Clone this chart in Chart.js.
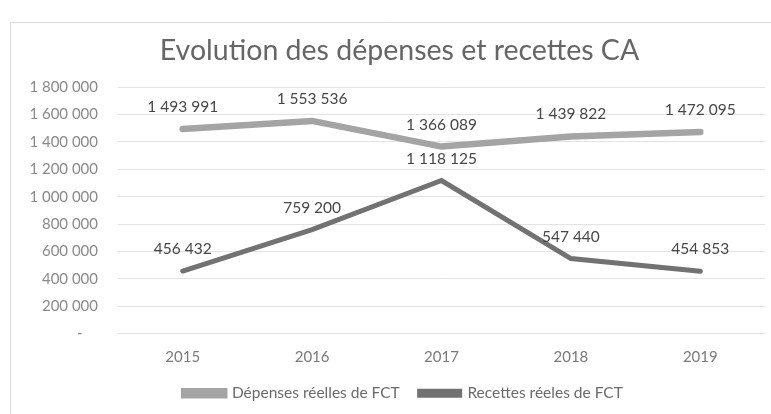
<!DOCTYPE html>
<html>
<head>
<meta charset="utf-8">
<script src="https://cdn.jsdelivr.net/npm/chart.js@4/dist/chart.umd.min.js"></script>
<style>
  html, body { margin: 0; padding: 0; background: #ffffff; }
  #wrap { width: 771px; height: 414px; position: relative; }
</style>
</head>
<body>
<div id="wrap"><canvas id="c" width="771" height="414"></canvas></div>
<script>
const chartTitle = "Evolution des dépenses et recettes CA";
const years = ["2015", "2016", "2017", "2018", "2019"];
const seriesNames = ["Dépenses réelles de FCT", "Recettes réeles de FCT"];
const depenses = [1493991, 1553536, 1366089, 1439822, 1472095];
const recettes = [456432, 759200, 1118125, 547440, 454853];
const yMin = 0;
const yMax = 1800000;
const yStep = 200000;

function fmt(v) {
  return String(Math.round(v)).replace(/\B(?=(\d{3})+(?!\d))/g, " ");
}

const frame = {
  id: "frame",
  beforeDraw(chart) {
    const ctx = chart.ctx;
    ctx.save();
    ctx.fillStyle = "#ffffff";
    ctx.fillRect(0, 0, chart.width, chart.height);
    ctx.strokeStyle = "#dcdcdc";
    ctx.lineWidth = 1;
    ctx.beginPath();
    ctx.moveTo(10.5, 414);
    ctx.lineTo(10.5, 22.5);
    ctx.lineTo(771, 22.5);
    ctx.stroke();
    ctx.restore();
  }
};

// Excel centres title and legend over the whole chart box, slightly right of the canvas centre
const centreShift = {
  id: "centreShift",
  afterLayout(chart) {
    if (chart.titleBlock) { chart.titleBlock.left += 12; chart.titleBlock.right += 12; }
    if (chart.legend) { chart.legend.left += 16; chart.legend.right += 16; }
  }
};

const dataLabels = {
  id: "dataLabels",
  afterDatasetsDraw(chart) {
    const ctx = chart.ctx;
    ctx.save();
    ctx.font = "15.5px Lato";
    ctx.fillStyle = "#474747";
    ctx.textAlign = "center";
    ctx.textBaseline = "middle";
    chart.data.datasets.forEach((ds, i) => {
      const meta = chart.getDatasetMeta(i);
      meta.data.forEach((pt, j) => {
        ctx.fillText(fmt(ds.data[j]), pt.x, pt.y - 22);
      });
    });
    ctx.restore();
  }
};

new Chart(document.getElementById("c"), {
  type: "line",
  data: {
    labels: years,
    datasets: [
      {
        label: seriesNames[0],
        data: depenses,
        borderColor: "#a4a4a4",
        backgroundColor: "#a4a4a4",
        borderWidth: 6.5,
        pointRadius: 0,
        tension: 0,
        borderCapStyle: "round"
      },
      {
        label: seriesNames[1],
        data: recettes,
        borderColor: "#727272",
        backgroundColor: "#727272",
        borderWidth: 5,
        pointRadius: 0,
        tension: 0,
        borderCapStyle: "round"
      }
    ]
  },
  options: {
    responsive: false,
    animation: false,
    layout: { padding: { left: 10, right: 6, top: 0, bottom: 3 } },
    plugins: {
      title: {
        display: true,
        text: chartTitle,
        color: "#666666",
        font: { family: "Lato", size: 28.5, weight: "normal" },
        padding: { top: 34, bottom: 19 }
      },
      legend: {
        position: "bottom",
        labels: {
          boxWidth: 40,
          boxHeight: 4,
          color: "#6a6a6a",
          font: { family: "Lato", size: 15.5 },
          padding: 4,
          generateLabels(chart) {
            const items = Chart.defaults.plugins.legend.labels.generateLabels(chart);
            items.forEach((it, i) => { if (i < items.length - 1) it.text = it.text + "    "; });
            return items;
          }
        }
      },
      tooltip: { enabled: false }
    },
    scales: {
      x: {
        offset: true,
        grid: { display: false, drawTicks: false },
        border: { display: false },
        ticks: { color: "#7a7a7a", font: { family: "Lato", size: 15 }, padding: 15 }
      },
      y: {
        min: yMin,
        max: yMax,
        afterFit(s) { s.width = 108; },
        grid: { color: "#e3e3e3", drawTicks: false },
        border: { display: false },
        ticks: {
          stepSize: yStep,
          color: "#8a8a8a",
          font: { family: "Lato", size: 15 },
          padding: 20,
          callback: (v) => (v === 0 ? "-    " : fmt(v))
        }
      }
    }
  },
  plugins: [frame, centreShift, dataLabels]
});
</script>
</body>
</html>
